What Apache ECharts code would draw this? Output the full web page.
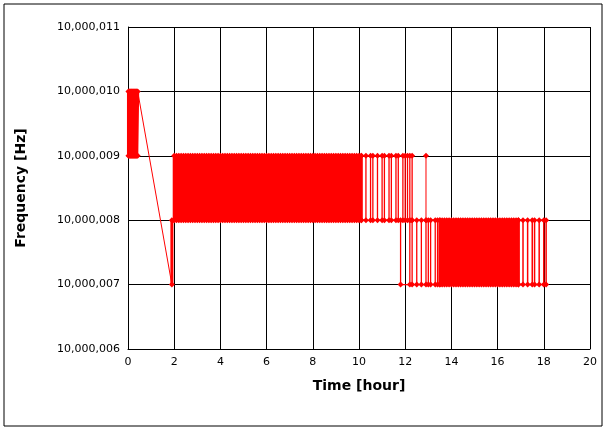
<!DOCTYPE html><html><head><meta charset="utf-8"><script src="https://cdn.jsdelivr.net/npm/echarts@6/dist/echarts.min.js"></script></head><body style="margin:0"><div id="c" style="width:608px;height:431px"></div><script>
const base = 10000000;
// toggle times (hours) for each oscillation band
const bandStartTimes = [0.02,0.05,0.08,0.11,0.14,0.17,0.2,0.23,0.26,0.29,0.32,0.35,0.38,0.42];
const bandATimes = [2.0,2.1,2.2,2.3,2.4,2.5,2.6,2.7,2.8,2.9,3.0,3.1,3.2,3.3,3.4,3.5,3.6,3.7,3.8,3.9,4.0,4.1,4.2,4.3,4.4,4.5,4.6,4.7,4.8,4.9,5.0,5.1,5.2,5.3,5.4,5.5,5.6,5.7,5.8,5.9,6.0,6.1,6.2,6.3,6.4,6.5,6.6,6.7,6.8,6.9,7.0,7.1,7.2,7.3,7.4,7.5,7.6,7.7,7.8,7.9,8.0,8.1,8.2,8.3,8.4,8.5,8.6,8.7,8.8,8.9,9.0,9.1,9.2,9.3,9.4,9.5,9.6,9.7,9.8,9.9,10.0,10.1];
const bandASparse = [10.1,10.3,10.5,10.6,10.8,11.0,11.1,11.3,11.4,11.6,11.7,11.9,12.0,12.1,12.2,12.3];
const bandBSparse = [11.8,12.2,12.3,12.5,12.7,12.9,13.0,13.1,13.3,13.4,13.5];
const bandBTimes = [13.5,13.6,13.7,13.8,13.9,14.0,14.1,14.2,14.3,14.4,14.5,14.6,14.7,14.8,14.9,15.0,15.1,15.2,15.3,15.4,15.5,15.6,15.7,15.8,15.9,16.0,16.1,16.2,16.3,16.4,16.5,16.6,16.7,16.8,16.9];
const bandBTail = [16.9,17.1,17.3,17.5,17.6,17.8,18.0,18.1];
const spikeTime = 12.9;

function wave(times, hi, lo){
  const out=[]; let up=true;
  times.forEach(t=>{ if(up){out.push([t,hi],[t,lo]);} else {out.push([t,lo],[t,hi]);} up=!up; });
  return out;
}
const diag = [[0.42,base+10],[1.9,base+7]];
const link = [[1.9,base+7],[1.9,base+8],[2.0,base+8]];
const s = (d,w,sym)=>({type:'line',data:d,symbol:'diamond',symbolSize:6,showSymbol:sym!==false,itemStyle:{color:'#f00'},lineStyle:{color:'#f00',width:w}});
const c = echarts.init(document.getElementById('c'));
const fmt = v => v.toLocaleString('en-US');
c.setOption({
  animation:false,
  graphic:[{type:'rect',shape:{x:4,y:4,width:598,height:422},style:{fill:'none',stroke:'#000',lineWidth:1}}],
  grid:{left:128,right:18,top:27,bottom:82},
  xAxis:{type:'value',min:0,max:20,interval:2,name:'Time [hour]',nameLocation:'middle',nameGap:30,
    nameTextStyle:{fontWeight:'bold',fontSize:14,color:'#000',fontFamily:'DejaVu Sans'},
    axisLine:{lineStyle:{color:'#000'}},axisTick:{show:false},
    axisLabel:{color:'#000',fontSize:11,fontFamily:'DejaVu Sans'},
    splitLine:{lineStyle:{color:'#000'}}},
  yAxis:{type:'value',min:base+6,max:base+11,interval:1,name:'Frequency [Hz]',nameLocation:'middle',nameGap:100,
    nameTextStyle:{fontWeight:'bold',fontSize:14,color:'#000',fontFamily:'DejaVu Sans'},
    axisLine:{show:true,lineStyle:{color:'#000'}},axisTick:{show:false},
    axisLabel:{color:'#000',fontSize:11,fontFamily:'DejaVu Sans',formatter:fmt},
    splitLine:{lineStyle:{color:'#000'}}},
  series:[
    s(wave(bandStartTimes, base+10, base+9),3),
    s(diag,1,false),
    s(link,3),
    s(wave(bandATimes, base+9, base+8),3),
    s(wave(bandASparse, base+9, base+8),1.3),
    s([[spikeTime,base+9],[spikeTime,base+8]],1),
    s(wave(bandBSparse, base+8, base+7),1.3),
    s(wave(bandBTimes, base+8, base+7),3),
    s(wave(bandBTail, base+8, base+7),1.5)
  ]
});
</script></body></html>
